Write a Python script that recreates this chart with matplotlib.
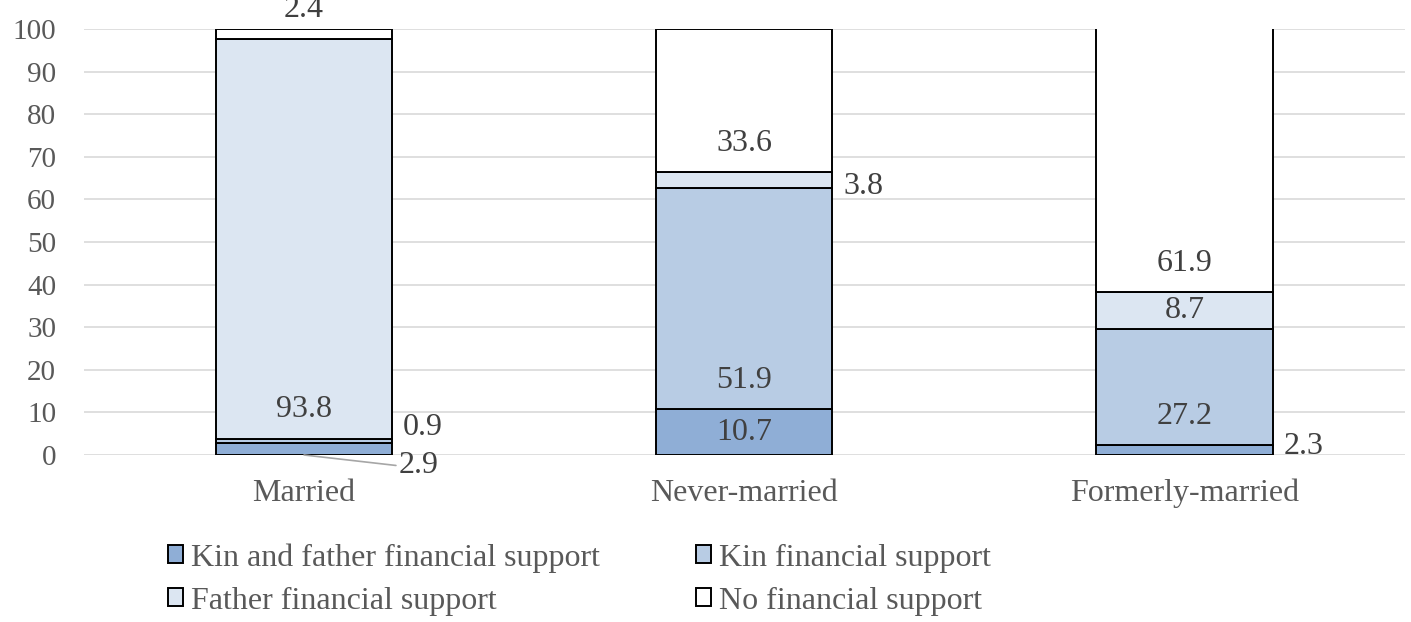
import matplotlib
matplotlib.use("Agg")
import matplotlib.pyplot as plt
from matplotlib.patches import Patch

groups = ["Married", "Never-married", "Formerly-married"]
series = ["Kin and father financial support", "Kin financial support",
          "Father financial support", "No financial support"]
kin_father = [2.9, 10.7, 2.3]
kin = [0.9, 51.9, 27.2]
father = [93.8, 3.8, 8.7]
no_support = [2.4, 33.6, 61.9]

COLORS = ["#8FAED6", "#B8CCE4", "#DCE6F2", "#FFFFFF"]
TXT = "#404040"
FS = 23

plt.rcParams["font.family"] = ["Liberation Serif", "DejaVu Serif"]

fig = plt.figure(figsize=(14.11, 6.22), dpi=100)
ax = fig.add_axes([0.0595, 0.2685, 0.936, 0.685])

values = [kin_father, kin, father, no_support]
x = list(range(len(groups)))
bottom = [0.0] * len(groups)
bases = []
for vals, col in zip(values, COLORS):
    ax.bar(x, vals, width=0.4, bottom=bottom, color=col, edgecolor="black",
           linewidth=1.4, zorder=3)
    bases.append(list(bottom))
    bottom = [b + v for b, v in zip(bottom, vals)]

# data labels: inside-base style; small segments get their label beside the bar
side_dy = {(0, 1): 3.0, (1, 2): -1.4, (2, 0): 0.8}
for s, vals in enumerate(values):
    for i, v in enumerate(vals):
        base = bases[s][i]
        if (i, s) == (0, 0):
            ax.annotate(f"{v}", xy=(i, 0), xytext=(i + 0.215, -2.5),
                        ha="left", va="center", fontsize=FS, color=TXT,
                        annotation_clip=False,
                        arrowprops=dict(arrowstyle="-", color="#A6A6A6", lw=1.2,
                                        shrinkA=0, shrinkB=0,
                                        connectionstyle="angle,angleA=0,angleB=-6.5,rad=0"))
        elif (i, s) == (0, 3):
            ax.text(i, base + v + 4.6, f"{v}", ha="center", va="center",
                    fontsize=FS, color=TXT, clip_on=False)
        elif (i, s) in side_dy:
            ax.text(i + 0.225, base + v / 2 + side_dy[(i, s)], f"{v}", ha="left",
                    va="center", fontsize=FS, color=TXT)
        else:
            y = base + min(6.8, v / 2)
            ax.text(i, y, f"{v}", ha="center", va="center", fontsize=FS,
                    color=TXT, zorder=4)

ax.set_xlim(-0.5, 2.5)
ax.set_ylim(0, 100)
ax.set_yticks(range(0, 101, 10))
ax.set_xticks(x)
ax.set_xticklabels(groups)
ax.tick_params(axis="both", length=0, labelsize=FS, labelcolor="#595959")
ax.tick_params(axis="y", labelsize=21, pad=20)
ax.tick_params(axis="x", pad=17)
ax.grid(axis="y", color="#D9D9D9", linewidth=1.2, zorder=0)
for sp in ax.spines.values():
    sp.set_visible(False)

handles = [Patch(facecolor=c, edgecolor="black", linewidth=1.4) for c in COLORS]
order = [0, 2, 1, 3]
fig.legend([handles[k] for k in order], [series[k] for k in order],
           loc="upper left", bbox_to_anchor=(0.119, 0.127), ncol=2,
           frameon=False, fontsize=FS, handlelength=0.48, handleheight=0.48,
           handletextpad=0.25, columnspacing=3.0, labelspacing=0.44,
           labelcolor="#595959", borderpad=0, borderaxespad=0)

fig.savefig("out.png", dpi=100)
